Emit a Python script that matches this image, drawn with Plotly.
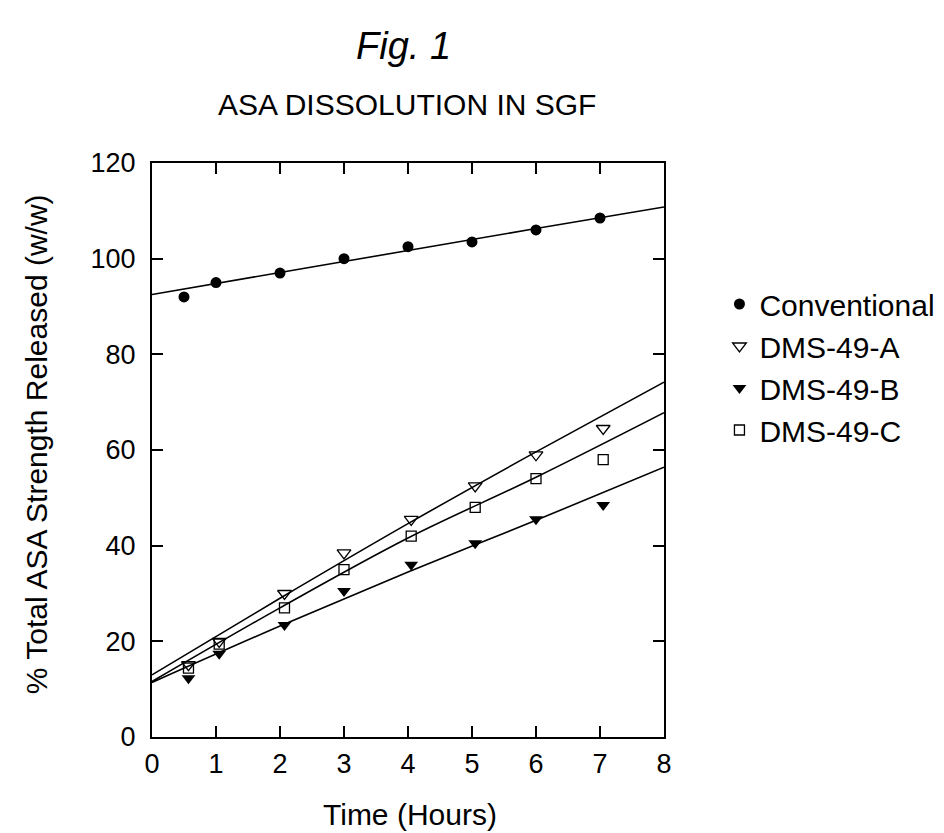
import plotly.graph_objects as go

# Data
hours_conv = [0.5, 1, 2, 3, 4, 5, 6, 7]
conventional = [92, 95, 97, 100, 102.5, 103.5, 106, 108.5]

hours_dms = [0.57, 1.05, 2.07, 3.0, 4.05, 5.05, 6.0, 7.05]
dms_a = [15.1, 20.0, 30, 38.5, 45.5, 52.5, 59, 64.5]
dms_b = [12.3, 17.4, 23.4, 30.5, 36, 40.5, 45.5, 48.5]
dms_c = [14.4, 19.4, 27, 35, 42, 48, 54, 58]

# Fitted curves, read at selected hours
fit_hours = [0, 2, 4, 6, 8]
fit_conv = [92.5, 97.1, 101.7, 106.3, 110.8]
fit_a = [13.0, 29.0, 44.6, 59.6, 74.2]
fit_b = [11.4, 23.2, 34.5, 45.3, 56.4]
fit_c = [11.6, 27.0, 41.6, 54.3, 67.8]

x_ticks = [0, 1, 2, 3, 4, 5, 6, 7, 8]
y_ticks = [0, 20, 40, 60, 80, 100, 120]

FONT = "Liberation Sans, Arial, Helvetica, sans-serif"
TICK_SIZE = 27
TITLE_SIZE = 30

L, R, T, B = 144, 283, 155, 104
W, H = 944, 833
PW, PH = W - L - R, H - T - B


def px_x(px):
    return (px - L) / PW


def px_y(py):
    return (H - B - py) / PH


fig = go.Figure()

for fy in [fit_conv, fit_a, fit_b, fit_c]:
    fig.add_trace(go.Scatter(x=fit_hours, y=fy, mode="lines",
                             line=dict(color="black", width=1.6, shape="spline"),
                             showlegend=False, hoverinfo="skip"))

fig.add_trace(go.Scatter(x=hours_conv, y=conventional, mode="markers", name="Conventional",
                         marker=dict(symbol="circle", size=11, color="black")))
fig.add_trace(go.Scatter(x=hours_dms, y=dms_a, mode="markers", name="DMS-49-A",
                         marker=dict(symbol="triangle-down-open", size=12, color="black",
                                     line=dict(width=1.3, color="black"))))
fig.add_trace(go.Scatter(x=hours_dms, y=dms_b, mode="markers", name="DMS-49-B",
                         marker=dict(symbol="triangle-down", size=12, color="black")))
fig.add_trace(go.Scatter(x=hours_dms, y=dms_c, mode="markers", name="DMS-49-C",
                         marker=dict(symbol="square-open", size=10, color="black",
                                     line=dict(width=1.3, color="black"))))

axis_common = dict(showgrid=False, zeroline=False, showline=True, linecolor="black",
                   linewidth=2, mirror="ticks", ticks="inside", ticklen=11,
                   tickwidth=1.5, tickcolor="black",
                   tickfont=dict(family=FONT, size=TICK_SIZE, color="black"))

fig.update_xaxes(range=[0, 8], tickvals=x_ticks, ticktext=[str(v) for v in x_ticks],
                 ticklabelstandoff=2, **axis_common)
fig.update_yaxes(range=[0, 120], tickvals=y_ticks, ticktext=[str(v) for v in y_ticks],
                 ticklabelstandoff=9, **axis_common)

fig.update_layout(
    width=W, height=H,
    margin=dict(l=L, r=R, t=T, b=B),
    paper_bgcolor="white", plot_bgcolor="white",
    font=dict(family=FONT, color="black"),
    showlegend=True,
    legend=dict(x=px_x(717), y=px_y(270), xanchor="left", yanchor="top",
                font=dict(family=FONT, size=TITLE_SIZE, color="black"),
                bgcolor="rgba(0,0,0,0)", tracegroupgap=0),
)

fig.add_annotation(text="<i>Fig. 1</i>", x=px_x(398), xref="paper", y=px_y(38), yref="paper",
                   xanchor="center", yanchor="middle", showarrow=False,
                   font=dict(family=FONT, size=38, color="black"))
fig.add_annotation(text="ASA DISSOLUTION IN SGF", x=px_x(401), xref="paper",
                   y=px_y(97), yref="paper", xanchor="center", yanchor="middle",
                   showarrow=False, font=dict(family=FONT, size=TITLE_SIZE, color="black"))
fig.add_annotation(text="Time (Hours)", x=px_x(405), xref="paper",
                   y=px_y(806), yref="paper", xanchor="center", yanchor="middle",
                   showarrow=False, font=dict(family=FONT, size=TITLE_SIZE, color="black"))
fig.add_annotation(text="% Total ASA Strength Released (w/w)", x=px_x(27), xref="paper",
                   y=px_y(436), yref="paper", xanchor="center", yanchor="middle",
                   textangle=-90, showarrow=False,
                   font=dict(family=FONT, size=TITLE_SIZE, color="black"))

fig.write_html("out.html")
